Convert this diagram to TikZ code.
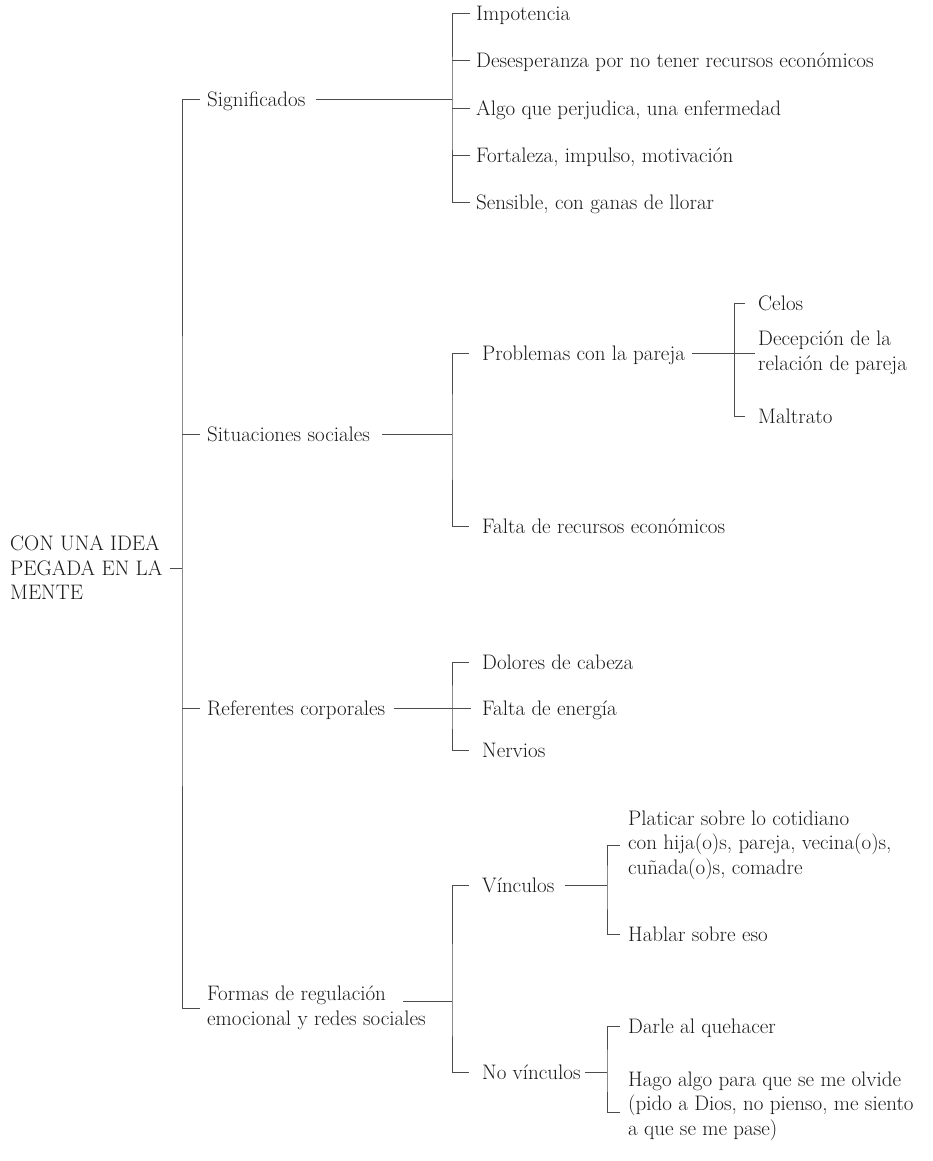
\documentclass[tikz,border=0pt]{standalone}
\usepackage{fontspec}

\tikzset{
    lbl/.style={inner sep=0pt, anchor=west, text height=14.5pt, text depth=0pt,
        font=\fontsize{21}{24.5}\selectfont, text=black!90},
    mlbl/.style={inner sep=0pt, anchor=west, align=left,
        font=\fontsize{21}{24.5}\selectfont, text=black!90},
    twig/.style={line width=0.8pt, draw=black!70}
}

\begin{document}
\begin{tikzpicture}[x=1pt, y=-1pt]
    \useasboundingbox (0,0) rectangle (933,1161);

    % Bracket coordinates
    \coordinate (trunk) at (182,568);
    \coordinate (bsig) at (452,99);
    \coordinate (bsit) at (452,434);
    \coordinate (bpar) at (734,353);
    \coordinate (bref) at (452,708);
    \coordinate (bform) at (452,1001);
    \coordinate (fout) at (403,1001);
    \coordinate (bvin) at (607,885);
    \coordinate (bnov) at (607,1072);

    % Root
    \node[mlbl] (root) at (10,568) {CON UNA IDEA\\PEGADA EN LA\\MENTE};

    % First level
    \node[lbl] (sig) at (207,99) {Significados};
    \node[lbl] (sit) at (207,434) {Situaciones sociales};
    \node[lbl] (ref) at (207,708) {Referentes corporales};
    \node[mlbl] (form) at (207,1008) {Formas de regulación\\emocional y redes sociales};

    % Significados
    \node[lbl] (imp) at (476,13) {Impotencia};
    \node[lbl] (des) at (476,60) {Desesperanza por no tener recursos económicos};
    \node[lbl] (alg) at (476,108) {Algo que perjudica, una enfermedad};
    \node[lbl] (fort) at (476,155) {Fortaleza, impulso, motivación};
    \node[lbl] (sen) at (476,202) {Sensible, con ganas de llorar};

    % Situaciones sociales
    \node[lbl] (pro) at (482,353) {Problemas con la pareja};
    \node[lbl] (fal) at (482,526) {Falta de recursos económicos};
    \node[lbl] (cel) at (758,303) {Celos};
    \node[mlbl] (dec) at (758,353) {Decepción de la\\relación de pareja};
    \node[lbl] (mal) at (758,416) {Maltrato};

    % Referentes corporales
    \node[lbl] (dol) at (482,662) {Dolores de cabeza};
    \node[lbl] (ene) at (482,708) {Falta de energía};
    \node[lbl] (ner) at (482,750) {Nervios};

    % Formas de regulacion
    \node[lbl] (vin) at (482,885) {Vínculos};
    \node[lbl] (nov) at (482,1072) {No vínculos};
    \node[mlbl] (pla) at (628,845) {Platicar sobre lo cotidiano\\con hija(o)s, pareja, vecina(o)s,\\cuñada(o)s, comadre};
    \node[lbl] (hab) at (628,934) {Hablar sobre eso};
    \node[lbl] (dar) at (628,1026) {Darle al quehacer};
    \node[mlbl] (hago) at (628,1106) {Hago algo para que se me olvide\\(pido a Dios, no pienso, me siento\\a que se me pase)};

    % Edges
    \draw[twig] ([xshift=7pt]root.east) -- (trunk);
    \draw[twig] ([xshift=-7pt]sig.west) -| (trunk) |- ([xshift=-7pt]form.west);
    \foreach \n in {sit,ref} \draw[twig] ([xshift=-7pt]\n.west) -- (\n.west -| trunk);

    \draw[twig] ([xshift=10pt]sig.east) -- (bsig);
    \draw[twig] ([xshift=-6pt]imp.west) -| (bsig) |- ([xshift=-6pt]sen.west);
    \foreach \n in {des,alg,fort} \draw[twig] ([xshift=-6pt]\n.west) -- (\n.west -| bsig);

    \draw[twig] ([xshift=12pt]sit.east) -- (bsit);
    \draw[twig] ([xshift=-13pt]pro.west) -| (bsit) |- ([xshift=-13pt]fal.west);

    \draw[twig] ([xshift=7pt]pro.east) -- ([xshift=-3pt]dec.west);
    \draw[twig] ([xshift=-13pt]cel.west) -| (bpar) |- ([xshift=-13pt]mal.west);

    \draw[twig] ([xshift=9pt]ref.east) -- ([xshift=-11pt]ene.west);
    \draw[twig] ([xshift=-13pt]dol.west) -| (bref) |- ([xshift=-13pt]ner.west);

    \draw[twig] (fout) -- (bform);
    \draw[twig] ([xshift=-13pt]vin.west) -| (bform) |- ([xshift=-13pt]nov.west);

    \draw[twig] ([xshift=10pt]vin.east) -- (bvin);
    \draw[twig] ([xshift=-8pt]pla.west) -| (bvin) |- ([xshift=-8pt]hab.west);

    \draw[twig] ([xshift=4pt]nov.east) -- (bnov);
    \draw[twig] ([xshift=-8pt]dar.west) -| (bnov) |- ([xshift=-8pt,yshift=-6pt]hago.west);
\end{tikzpicture}
\end{document}
